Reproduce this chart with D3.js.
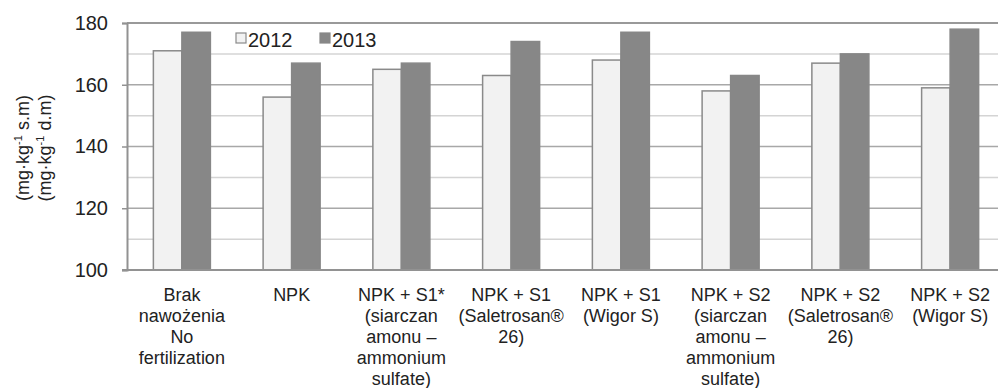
<!DOCTYPE html>
<html>
<head>
<meta charset="utf-8">
<script src="https://cdn.jsdelivr.net/npm/d3@7"></script>
<style>
  body { margin: 0; background: #fff; }
  svg { display: block; font-family: "Liberation Sans", Arial, sans-serif; }
</style>
</head>
<body>
<svg id="chart" width="998" height="388"></svg>
<script>
// category labels, one entry per line
const categories = [
  ["Brak", "nawożenia", "No", "fertilization"],
  ["NPK"],
  ["NPK + S1*", "(siarczan", "amonu –", "ammonium", "sulfate)"],
  ["NPK + S1", "(Saletrosan®", "26)"],
  ["NPK + S1", "(Wigor S)"],
  ["NPK + S2", "(siarczan", "amonu –", "ammonium", "sulfate)"],
  ["NPK + S2", "(Saletrosan®", "26)"],
  ["NPK + S2", "(Wigor S)"]
];
const series = ["2012", "2013"];
const values2012 = [171, 156, 165, 163, 168, 158, 167, 159];
const values2013 = [177, 167, 167, 174, 177, 163, 170, 178];
const yTicks = [100, 120, 140, 160, 180];
const yMinor = [110, 130, 150, 170];

const svg = d3.select("#chart");
const plotLeft = 127, plotRight = 1005, plotTop = 23, plotBottom = 270;

const x0 = d3.scaleBand()
  .domain(d3.range(categories.length))
  .range([plotLeft, plotRight])
  .padding(0);

const x1 = d3.scaleBand()
  .domain(series)
  .range([0, x0.bandwidth()])
  .paddingInner(0)
  .paddingOuter(0.925);

const y = d3.scaleLinear().domain([100, 180]).range([plotBottom, plotTop]);

// gridlines
svg.append("g")
  .selectAll("line")
  .data(yMinor)
  .join("line")
  .attr("x1", plotLeft).attr("x2", plotRight)
  .attr("y1", d => y(d)).attr("y2", d => y(d))
  .attr("stroke", "#d4d4d4")
  .attr("stroke-width", 1.5);

svg.append("g")
  .selectAll("line")
  .data(yTicks.filter(d => d !== 100))
  .join("line")
  .attr("x1", plotLeft).attr("x2", plotRight)
  .attr("y1", d => y(d)).attr("y2", d => y(d))
  .attr("stroke", d => d === 180 ? "#999" : "#a8a8a8")
  .attr("stroke-width", d => d === 180 ? 2 : 1.5);

// bars
const colors = { "2012": "#f2f2f2", "2013": "#878787" };
const strokes = { "2012": "#8a8a8a", "2013": "#878787" };
const rows = categories.map((c, i) => ({ i, vals: [
  { s: "2012", v: values2012[i] },
  { s: "2013", v: values2013[i] }
]}));

const groups = svg.append("g")
  .selectAll("g")
  .data(rows)
  .join("g")
  .attr("transform", d => `translate(${x0(d.i)},0)`);

groups.selectAll("rect")
  .data(d => d.vals)
  .join("rect")
  .attr("x", d => x1(d.s))
  .attr("y", d => y(d.v))
  .attr("width", x1.bandwidth())
  .attr("height", d => y(100) - y(d.v))
  .attr("fill", d => colors[d.s])
  .attr("stroke", d => strokes[d.s])
  .attr("stroke-width", 1.5);

// y axis
const yAxis = d3.axisLeft(y)
  .tickValues(yTicks)
  .tickSize(5)
  .tickPadding(14);
const ya = svg.append("g")
  .attr("transform", `translate(${plotLeft},0)`)
  .call(yAxis);
ya.select(".domain").attr("stroke", "#929292").attr("stroke-width", 2);
ya.selectAll(".tick line").attr("stroke", "#929292").attr("stroke-width", 1.5);
ya.selectAll(".tick text")
  .attr("fill", "#222")
  .style("font-size", "20px")
  .style("font-family", "Liberation Sans, Arial, sans-serif");

// x axis line
svg.append("line")
  .attr("x1", plotLeft - 5).attr("x2", plotRight)
  .attr("y1", plotBottom).attr("y2", plotBottom)
  .attr("stroke", "#929292")
  .attr("stroke-width", 2);

// category labels
const lab = svg.append("g")
  .selectAll("text")
  .data(categories)
  .join("text")
  .attr("text-anchor", "middle")
  .attr("fill", "#222")
  .style("font-size", "18px")
  .attr("transform", (d, i) => `translate(${x0(i) + x0.bandwidth() / 2},${plotBottom + 31})`);

lab.selectAll("tspan")
  .data(d => d)
  .join("tspan")
  .attr("x", 0)
  .attr("y", (d, i) => i * 21)
  .text(d => d);

// y title
const titles = [["(mg·kg", "-1", " s.m)"], ["(mg·kg", "-1", " d.m)"]];
titles.forEach((t, i) => {
  const tx = svg.append("text")
    .attr("transform", `translate(${29 + i * 22},148) rotate(-90)`)
    .attr("text-anchor", "middle")
    .attr("fill", "#222")
    .style("font-size", "18px");
  tx.append("tspan").text(t[0]);
  tx.append("tspan").attr("dy", -7).style("font-size", "11px").text(t[1]);
  tx.append("tspan").attr("dy", 7).text(t[2]);
});

// legend
const legendX = [236, 320];
const leg = svg.append("g")
  .selectAll("g")
  .data(series)
  .join("g")
  .attr("transform", (d, i) => `translate(${legendX[i]},33)`);
leg.append("rect")
  .attr("width", 10).attr("height", 10)
  .attr("fill", d => colors[d])
  .attr("stroke", d => strokes[d])
  .attr("stroke-width", 1.2);
leg.append("text")
  .attr("x", 12).attr("y", 14)
  .attr("fill", "#222")
  .style("font-size", "20px")
  .text(d => d);
</script>
</body>
</html>
